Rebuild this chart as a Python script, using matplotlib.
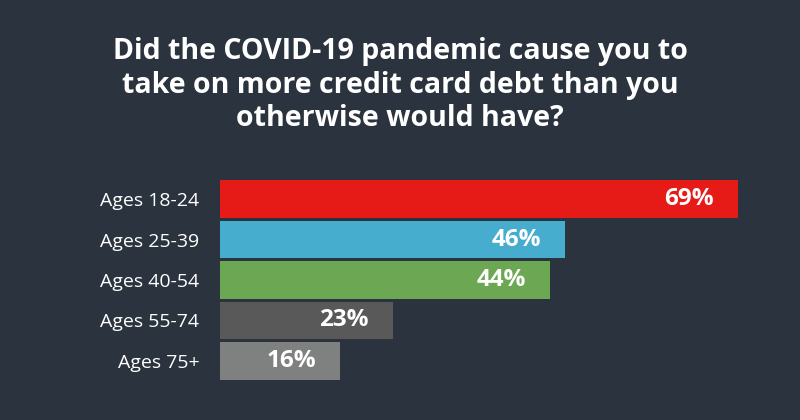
import matplotlib
matplotlib.use('Agg')
import matplotlib.pyplot as plt

# data
groups = ['Ages 18-24', 'Ages 25-39', 'Ages 40-54', 'Ages 55-74', 'Ages 75+']
values = [69, 46, 44, 23, 16]
colors = ['#e61a17', '#46adcf', '#6ca853', '#595959', '#7f8080']
title = 'Did the COVID-19 pandemic cause you to\ntake on more credit card debt than you\notherwise would have?'

bg = '#2b343e'
plt.rcParams['font.family'] = ['Open Sans', 'DejaVu Sans']

fig = plt.figure(figsize=(8, 4.2), dpi=100, facecolor=bg)
ax = fig.add_axes([0.275, 0.093, 0.65, 0.481])
ax.set_facecolor(bg)

y = list(range(len(groups)))
ax.barh(y, values, height=0.93, color=colors)
ax.set_ylim(len(groups) - 0.5, -0.5)
ax.set_xlim(0, 69.3)

for i, v in enumerate(values):
    ax.text(v - 3.2, i, f'{v}%', ha='right', va='center', color='white',
            fontsize=17.5, fontweight='bold')

ax.set_yticks(y)
ax.set_yticklabels(groups, color='white', fontsize=14)
ax.tick_params(axis='y', length=0, pad=15)
ax.set_xticks([])
for s in ax.spines.values():
    s.set_visible(False)

fig.text(0.5, 0.797, title, ha='center', va='center', color='white',
         fontsize=20.5, fontweight='bold', linespacing=1.2)

fig.savefig('out.png', dpi=100, facecolor=bg)
